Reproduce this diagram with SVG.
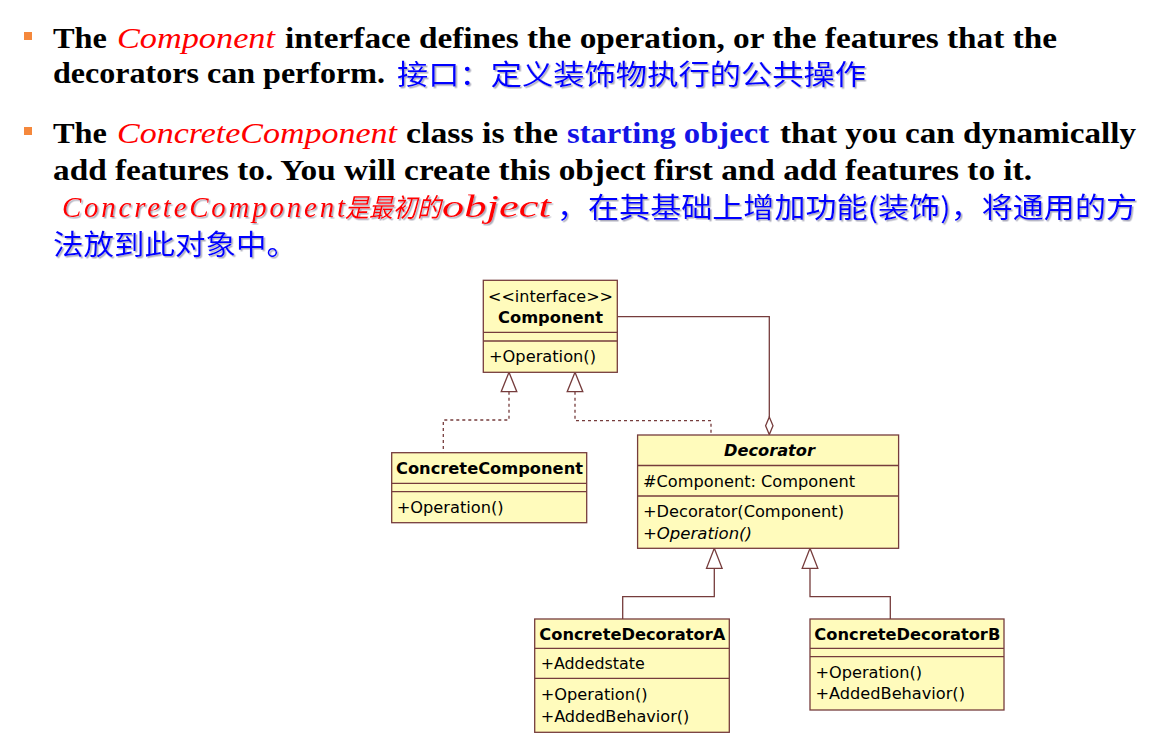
<svg xmlns="http://www.w3.org/2000/svg" width="1154" height="748" viewBox="0 0 1154 748">
<defs>
<style>
.hd{font-family:"Liberation Serif","Noto Sans CJK SC",serif;font-size:29px;font-weight:bold;fill:#000}
.it{font-family:"Liberation Serif","Noto Sans CJK SC",serif;font-size:29px;font-style:italic;font-weight:normal;fill:#ff0000}
.cn{font-family:"Noto Sans CJK SC",sans-serif;font-size:28px;font-weight:normal;fill:#0000ff}
.bl{fill:#1414e6}
.box{fill:#fffbbc;stroke:#763c3c;stroke-width:1.3}
.sep{stroke:#763c3c;stroke-width:1.3}
.u{font-family:"DejaVu Sans","Liberation Sans",sans-serif;font-size:16px;fill:#000}
.ub{font-family:"DejaVu Sans","Liberation Sans",sans-serif;font-size:16px;font-weight:bold;fill:#000}
.ln{fill:none;stroke:#763c3c;stroke-width:1.3}
.dash{fill:none;stroke:#763c3c;stroke-width:1.3;stroke-dasharray:3 3}
.head{fill:#ffffff;stroke:#763c3c;stroke-width:1.3}
</style>
<filter id="sh" x="-5%" y="-30%" width="110%" height="160%">
<feDropShadow dx="1.5" dy="1.5" stdDeviation="0.7" flood-color="#8a8aa0" flood-opacity="0.7"/>
</filter>
</defs>
<rect width="1154" height="748" fill="#ffffff"/>

<g id="text-block">
<rect x="24" y="32" width="8" height="8" fill="#f5883c"/>
<rect x="24" y="127" width="8" height="8" fill="#f5883c"/>
<text class="hd" y="48"><tspan x="53" textLength="54" lengthAdjust="spacingAndGlyphs">The</tspan><tspan class="it" x="117" textLength="158" lengthAdjust="spacingAndGlyphs">Component</tspan><tspan x="285" textLength="772" lengthAdjust="spacingAndGlyphs">interface defines the operation, or the features that the</tspan></text>
<text class="hd" y="83"><tspan x="53" textLength="332" lengthAdjust="spacingAndGlyphs">decorators can perform.</tspan></text>
<text class="cn" x="397" y="85" textLength="469" lengthAdjust="spacingAndGlyphs" filter="url(#sh)">接口：定义装饰物执行的公共操作</text>
<text class="hd" y="143"><tspan x="53" textLength="54" lengthAdjust="spacingAndGlyphs">The</tspan><tspan class="it" x="117" textLength="280" lengthAdjust="spacingAndGlyphs">ConcreteComponent</tspan><tspan x="406" textLength="152" lengthAdjust="spacingAndGlyphs">class is the</tspan><tspan class="bl" x="567" textLength="202" lengthAdjust="spacingAndGlyphs">starting object</tspan><tspan x="780" textLength="356" lengthAdjust="spacingAndGlyphs">that you can dynamically</tspan></text>
<text class="hd" x="53" y="180" textLength="979" lengthAdjust="spacingAndGlyphs">add features to. You will create this object first and add features to it.</text>
<text class="it" y="217" filter="url(#sh)"><tspan x="62" textLength="283" lengthAdjust="spacing">ConcreteComponent</tspan><tspan x="345" font-size="26" textLength="96" lengthAdjust="spacingAndGlyphs">是最初的</tspan><tspan x="442" font-size="31" textLength="109" lengthAdjust="spacingAndGlyphs">object</tspan></text>
<text class="cn" x="557" y="218" textLength="580" lengthAdjust="spacingAndGlyphs" filter="url(#sh)">，在其基础上增加功能(装饰)，将通用的方</text>
<text class="cn" x="53" y="255" textLength="244" lengthAdjust="spacingAndGlyphs" filter="url(#sh)">法放到此对象中。</text>
</g>

<g id="connectors">
<path class="ln" d="M617.3,316.7 H769.3 V417"/>
<polygon class="head" points="769.3,417 773,425.7 769.3,434.5 765.6,425.7"/>
<path class="dash" d="M509,391.7 V420 H443.3 V452.7"/>
<polygon class="head" points="509,372.3 516.8,391.7 501.2,391.7"/>
<path class="dash" d="M575,391.7 V420.7 H711 V435"/>
<polygon class="head" points="575,372.3 582.8,391.7 567.2,391.7"/>
<path class="ln" d="M714.3,568.3 V596.7 H622.7 V619"/>
<polygon class="head" points="714.3,548.3 722.1,568.3 706.5,568.3"/>
<path class="ln" d="M810,568.3 V596.7 H890.3 V619"/>
<polygon class="head" points="810,548.3 817.8,568.3 802.2,568.3"/>
</g>

<g id="component">
<rect class="box" x="483.3" y="280.3" width="134" height="92"/>
<line class="sep" x1="483.3" y1="332.3" x2="617.3" y2="332.3"/>
<line class="sep" x1="483.3" y1="341" x2="617.3" y2="341"/>
<text class="u" x="488" y="301.7" textLength="125" lengthAdjust="spacingAndGlyphs">&lt;&lt;interface&gt;&gt;</text>
<text class="ub" x="498" y="323.3" textLength="105" lengthAdjust="spacingAndGlyphs">Component</text>
<text class="u" x="489" y="362.3" textLength="107" lengthAdjust="spacingAndGlyphs">+Operation()</text>
</g>

<g id="concrete-component">
<rect class="box" x="391.7" y="452.7" width="195" height="70"/>
<line class="sep" x1="391.7" y1="483.3" x2="586.7" y2="483.3"/>
<line class="sep" x1="391.7" y1="491.7" x2="586.7" y2="491.7"/>
<text class="ub" x="396" y="474" textLength="187" lengthAdjust="spacingAndGlyphs">ConcreteComponent</text>
<text class="u" x="396.7" y="513.3" textLength="107" lengthAdjust="spacingAndGlyphs">+Operation()</text>
</g>

<g id="decorator">
<rect class="box" x="637.6" y="435" width="261" height="113.3"/>
<line class="sep" x1="637.6" y1="465.5" x2="898.6" y2="465.5"/>
<line class="sep" x1="637.6" y1="496" x2="898.6" y2="496"/>
<text class="ub" x="724" y="456.4" font-style="italic" textLength="91" lengthAdjust="spacingAndGlyphs">Decorator</text>
<text class="u" x="643" y="487.3" textLength="212" lengthAdjust="spacingAndGlyphs">#Component: Component</text>
<text class="u" x="643" y="517" textLength="201" lengthAdjust="spacingAndGlyphs">+Decorator(Component)</text>
<text class="u" x="643" y="538.5" font-style="italic" textLength="109" lengthAdjust="spacingAndGlyphs">+Operation()</text>
</g>

<g id="concrete-decorator-a">
<rect class="box" x="534.7" y="619" width="194.6" height="113.3"/>
<line class="sep" x1="534.7" y1="648.3" x2="729.3" y2="648.3"/>
<line class="sep" x1="534.7" y1="678.3" x2="729.3" y2="678.3"/>
<text class="ub" x="539.3" y="640" textLength="186" lengthAdjust="spacingAndGlyphs">ConcreteDecoratorA</text>
<text class="u" x="540.7" y="669.3" textLength="104" lengthAdjust="spacingAndGlyphs">+Addedstate</text>
<text class="u" x="540.7" y="700" textLength="107" lengthAdjust="spacingAndGlyphs">+Operation()</text>
<text class="u" x="540.7" y="721.7" textLength="148.6" lengthAdjust="spacingAndGlyphs">+AddedBehavior()</text>
</g>

<g id="concrete-decorator-b">
<rect class="box" x="810" y="619" width="194" height="91"/>
<line class="sep" x1="810" y1="648.3" x2="1004" y2="648.3"/>
<line class="sep" x1="810" y1="656.7" x2="1004" y2="656.7"/>
<text class="ub" x="814.3" y="640" textLength="186" lengthAdjust="spacingAndGlyphs">ConcreteDecoratorB</text>
<text class="u" x="815.5" y="677.7" textLength="106.5" lengthAdjust="spacingAndGlyphs">+Operation()</text>
<text class="u" x="815.5" y="699.3" textLength="149.5" lengthAdjust="spacingAndGlyphs">+AddedBehavior()</text>
</g>
</svg>
